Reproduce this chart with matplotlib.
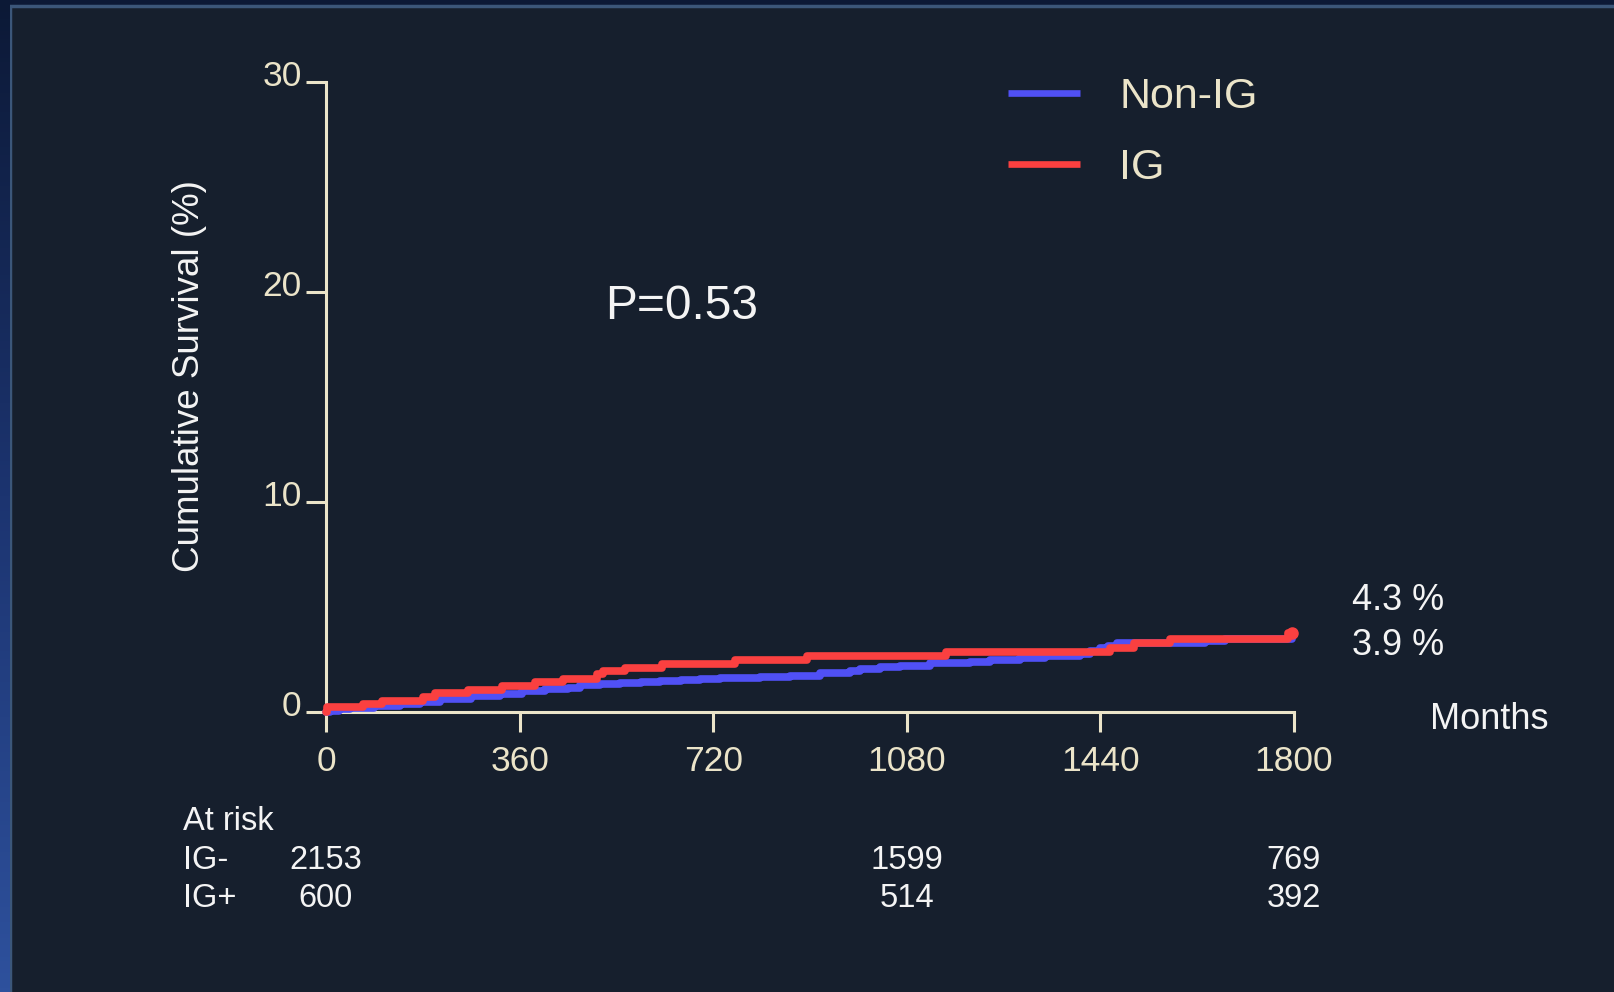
import numpy as np
import matplotlib
matplotlib.use('Agg')
import matplotlib.pyplot as plt
from matplotlib.patches import Rectangle
from matplotlib.transforms import ScaledTranslation
from matplotlib.colors import LinearSegmentedColormap

plt.rcParams['font.family'] = ['Liberation Sans', 'DejaVu Sans']

# Kaplan-Meier step points (months, cumulative %)
ig_t = [0, 2, 69, 104, 180, 203, 264, 327, 389, 441, 504, 515, 556, 625,
        760, 894, 1153, 1458, 1502, 1569, 1789, 1796]
ig_v = [0, 0.24, 0.38, 0.54, 0.71, 0.9, 1.05, 1.25, 1.43, 1.57, 1.8, 1.95,
        2.1, 2.28, 2.48, 2.67, 2.86, 3.06, 3.3, 3.49, 3.76, 3.76]

nonig_t = [0, 7, 25, 45, 90, 138, 175, 212, 270, 324, 365, 407, 450, 472,
           510, 547, 585, 621, 660, 695, 733, 807, 863, 919, 974, 993, 1030,
           1067, 1123, 1197, 1235, 1290, 1337, 1402, 1421, 1439, 1454, 1471,
           1634, 1672, 1740, 1796]
nonig_v = [0, 0.05, 0.12, 0.2, 0.3, 0.38, 0.5, 0.62, 0.74, 0.86, 0.98, 1.1,
           1.16, 1.29, 1.34, 1.4, 1.44, 1.48, 1.52, 1.56, 1.63, 1.65, 1.73,
           1.84, 1.95, 2.05, 2.12, 2.19, 2.32, 2.37, 2.48, 2.56, 2.65, 2.76,
           2.92, 3.05, 3.14, 3.3, 3.4, 3.46, 3.5, 3.5]

x_ticks = [0, 360, 720, 1080, 1440, 1800]
y_ticks = [0, 10, 20, 30]

risk_times = [0, 1080, 1800]
risk_igneg = ['2153', '1599', '769']
risk_igpos = ['600', '514', '392']

end_labels = ['4.3 %', '3.9 %']

cream = '#ebe4c9'
white = '#f4f4f4'
blue = '#5050f5'
red = '#fa4040'
panel = '#161f2d'

W, H = 1614, 992
fig = plt.figure(figsize=(W / 100, H / 100), dpi=100)
fig.patch.set_facecolor('#0c1936')

# left edge strip fading to blue
strip = fig.add_axes([0, 0, 10 / W, 1])
grad = np.linspace(0, 1, 256).reshape(-1, 1)
cmap = LinearSegmentedColormap.from_list('edge', ['#0c1936', '#1c3470', '#2e519d'])
strip.imshow(grad, aspect='auto', cmap=cmap, extent=[0, 1, 0, 1], origin='upper')
strip.axis('off')

# slide panel with thin border
fig.add_artist(Rectangle((10 / W, -0.01), 1.0, 1 - 6 / H + 0.01,
                         transform=fig.transFigure, facecolor=panel,
                         edgecolor='#3b5679', linewidth=2.5, zorder=0))

ax = fig.add_axes([326 / W, 1 - 712 / H, 968 / W, 630 / H])
ax.set_facecolor('none')
ax.set_xlim(0, 1800)
ax.set_ylim(0, 30)

for s in ['top', 'right']:
    ax.spines[s].set_visible(False)
for s in ['left', 'bottom']:
    ax.spines[s].set_color(cream)
    ax.spines[s].set_linewidth(2.2)

ax.set_xticks(x_ticks)
ax.set_yticks(y_ticks)
ax.tick_params(axis='both', direction='out', length=14.4, width=2.2,
               color=cream, labelcolor=cream, labelsize=25.5)
ax.tick_params(axis='y', pad=3.2)
ax.tick_params(axis='x', pad=9.5)
for lab in ax.get_yticklabels():
    lab.set_transform(lab.get_transform() + ScaledTranslation(0, 0.095, fig.dpi_scale_trans))

ax.step(nonig_t, nonig_v, where='post', color=blue, lw=5.5, clip_on=False,
        solid_capstyle='round', solid_joinstyle='round', label='Non-IG', zorder=3)
ax.step(ig_t, ig_v, where='post', color=red, lw=5.5, clip_on=False,
        solid_capstyle='round', solid_joinstyle='round', label='IG', zorder=4)
ax.plot(ig_t[-1], ig_v[-1], 'o', color=red, ms=8, clip_on=False, zorder=5)

leg = ax.legend(loc='upper left', bbox_to_anchor=(1008 / W, 1 - 77 / H),
                bbox_transform=fig.transFigure, frameon=False, fontsize=31,
                handlelength=1.68, handletextpad=0.9, labelspacing=0.72,
                borderpad=0, borderaxespad=0)
for txt in leg.get_texts():
    txt.set_color(cream)
for ln in leg.get_lines():
    ln.set_linewidth(4.8)
    ln.set_solid_capstyle('butt')

ax.text(-0.1405, 0.533, 'Cumulative Survival (%)', transform=ax.transAxes,
        rotation=90, ha='center', va='center', fontsize=26.5, color=white)
ax.text(0.288, 0.643, 'P=0.53', transform=ax.transAxes, ha='left',
        va='center', fontsize=34.5, color=white)
ax.text(1.06, 0.1775, end_labels[0], transform=ax.transAxes, ha='left',
        va='center', fontsize=26, color=white)
ax.text(1.06, 0.106, end_labels[1], transform=ax.transAxes, ha='left',
        va='center', fontsize=26, color=white)
ax.text(1.1405, -0.0115, 'Months', transform=ax.transAxes, ha='left',
        va='center', fontsize=26, color=white)

# number at risk table under the x axis
row_y = [-0.1735, -0.2365, -0.2955]
ax.text(-266, row_y[0], 'At risk', transform=ax.get_xaxis_transform(),
        ha='left', va='center', fontsize=23.5, color=white, clip_on=False)
ax.text(-266, row_y[1], 'IG-', transform=ax.get_xaxis_transform(),
        ha='left', va='center', fontsize=23.5, color=white, clip_on=False)
ax.text(-266, row_y[2], 'IG+', transform=ax.get_xaxis_transform(),
        ha='left', va='center', fontsize=23.5, color=white, clip_on=False)
for t, a, b in zip(risk_times, risk_igneg, risk_igpos):
    ax.text(t, row_y[1], a, transform=ax.get_xaxis_transform(), ha='center',
            va='center', fontsize=23.5, color=white, clip_on=False)
    ax.text(t, row_y[2], b, transform=ax.get_xaxis_transform(), ha='center',
            va='center', fontsize=23.5, color=white, clip_on=False)

fig.savefig('out.png', dpi=100, facecolor=fig.get_facecolor())
